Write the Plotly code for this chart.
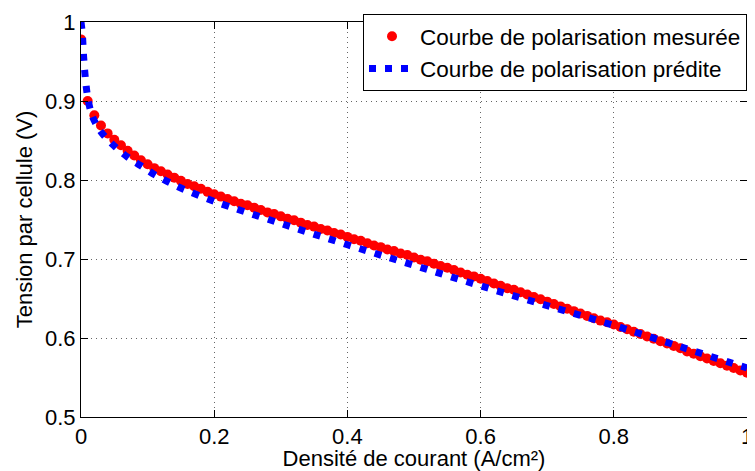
import plotly.graph_objects as go

# measured polarisation curve (A/cm², V)
j_mes = [round(i * 0.01, 2) for i in range(101)]
v_mes = [0.978, 0.900, 0.882, 0.869, 0.859, 0.851, 0.844, 0.837, 0.831, 0.825,
         0.820, 0.815, 0.811, 0.807, 0.803, 0.799, 0.795, 0.792, 0.789, 0.785,
         0.782, 0.779, 0.776, 0.773, 0.770, 0.768, 0.765, 0.762, 0.759, 0.757,
         0.754, 0.751, 0.749, 0.746, 0.743, 0.741, 0.738, 0.736, 0.733, 0.731,
         0.728, 0.725, 0.723, 0.720, 0.717, 0.715, 0.712, 0.710, 0.707, 0.705,
         0.702, 0.699, 0.697, 0.694, 0.691, 0.689, 0.686, 0.683, 0.680, 0.678,
         0.675, 0.672, 0.669, 0.666, 0.663, 0.661, 0.658, 0.655, 0.652, 0.649,
         0.646, 0.643, 0.640, 0.637, 0.634, 0.631, 0.628, 0.625, 0.622, 0.620,
         0.617, 0.614, 0.611, 0.608, 0.605, 0.602, 0.599, 0.596, 0.593, 0.590,
         0.587, 0.583, 0.580, 0.577, 0.574, 0.571, 0.568, 0.565, 0.562, 0.559,
         0.556]

# predicted polarisation curve
j_pred = [0.0, 0.002, 0.004, 0.007, 0.010, 0.015, 0.02, 0.03, 0.05, 0.07, 0.09,
          0.11, 0.13, 0.155, 0.2, 0.3, 0.4, 0.5, 0.6, 0.7, 0.8, 0.9, 1.0]
v_pred = [1.000, 0.985, 0.955, 0.925, 0.905, 0.886, 0.875, 0.861, 0.843, 0.829,
          0.818, 0.807, 0.798, 0.788, 0.773, 0.745, 0.718, 0.692, 0.666, 0.641,
          0.616, 0.589, 0.562]

font = "Liberation Sans, Arial, sans-serif"

fig = go.Figure()
fig.add_trace(go.Scatter(
    x=j_mes, y=v_mes, mode="markers",
    name="Courbe de polarisation mesurée",
    marker=dict(color="#ff0000", size=10, line_width=0),
))
fig.add_trace(go.Scatter(
    x=j_pred, y=v_pred, mode="lines", line_shape="spline",
    name="Courbe de polarisation prédite",
    line=dict(color="#0000ff", width=7, dash="7px,9px"),
))

axis_common = dict(
    showline=True, linecolor="black", linewidth=1, mirror="allticks",
    ticks="inside", ticklen=7, tickcolor="black",
    showgrid=True, gridcolor="#666666", griddash="1px,4px", gridwidth=1,
    zeroline=False, tickfont=dict(size=22, color="black"),
    ticklabeloverflow="allow",
)

fig.update_xaxes(range=[0, 1], dtick=0.2, **axis_common,
                 title=dict(text="Densité de courant (A/cm²)", standoff=0,
                            font=dict(size=22, color="black")))
fig.update_yaxes(range=[0.5, 1], dtick=0.1, **axis_common,
                 title=dict(text="Tension par cellule (V)", standoff=6,
                            font=dict(size=22, color="black")))

# the page body adds an 8px offset, so the figure is 8px smaller
fig.update_layout(
    width=747, height=463,
    margin=dict(l=73, r=2, t=8, b=54),
    paper_bgcolor="white", plot_bgcolor="white",
    font=dict(family=font, size=22, color="black"),
    showlegend=True,
    legend=dict(x=1, y=1.02, xanchor="right", yanchor="top",
                bgcolor="white", bordercolor="black", borderwidth=1,
                font=dict(size=22.5), itemwidth=46, tracegroupgap=0),
)

fig.write_html("out.html")
